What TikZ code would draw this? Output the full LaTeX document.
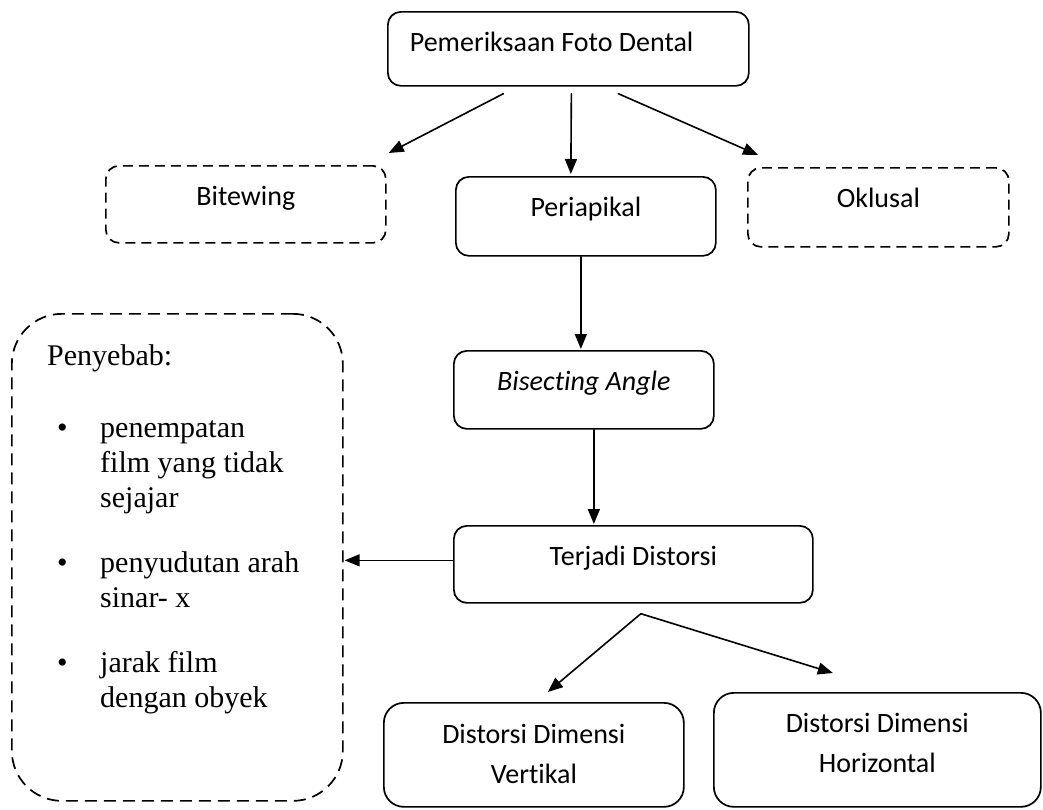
\documentclass[tikz,border=0pt]{standalone}
\usepackage{fontspec}
\setmainfont{Carlito}[Ligatures=NoCommon]
\newfontfamily\timesfont{Liberation Serif}
\usetikzlibrary{arrows.meta}

\newcommand{\poin}{\makebox[53pt][l]{\hspace{10pt}•}}

\tikzset{
  kotak/.style={draw,line width=1.7pt,rounded corners=13pt,inner sep=0pt,anchor=north west,
    text height=40pt,font=\fontsize{28}{34}\selectfont},
  putus/.style={kotak,line cap=butt,dash pattern=on 10pt off 6pt},
  panah/.style={->,line width=1.6pt}
}

\begin{document}
\begin{tikzpicture}[line cap=round,line join=round,>={Triangle[length=15pt,width=12pt]},x=1pt,y=-1pt]
\useasboundingbox (0,0) rectangle (1043,809);
% kotak atas
\node[kotak,minimum height=74pt,text depth=34pt,text width=317pt,inner xsep=22pt,align=flush left] (dental) at (387,11) {Pemeriksaan Foto Dental};
\node[putus,minimum width=280pt,minimum height=77pt,text depth=37pt] (bite) at (105,165) {Bitewing};
\node[kotak,minimum width=260pt,minimum height=79pt,text depth=39pt] (peri) at (455,176) {Periapikal};
\node[putus,minimum width=261pt,minimum height=79pt,text depth=39pt] (oklu) at (747,167) {Oklusal};
% tengah
\node[kotak,minimum width=260pt,minimum height=78pt,text depth=38pt] (bis) at (453,350) {\itshape Bisecting Angle};
\node[kotak,minimum width=359pt,minimum height=77pt,text depth=37pt] (terj) at (453,525) {Terjadi Distorsi};
% bawah
\node[kotak,rounded corners=20pt,minimum width=300pt,minimum height=104pt,text height=81pt,text depth=23pt,align=center] (vert) at (383,702) {Distorsi Dimensi\\[6pt]Vertikal};
\node[kotak,rounded corners=20pt,minimum width=327pt,minimum height=114pt,text height=80pt,text depth=34pt,align=center] (hor) at (713,692) {Distorsi Dimensi\\[6pt]Horizontal};
% penyebab
\node[putus,rounded corners=50pt,dash pattern=on 12pt off 7pt,minimum width=331pt,minimum height=487pt] (sebab) at (11,313) {};
\node[anchor=base west,inner sep=0pt,align=flush left,font=\timesfont\fontsize{30}{35}\selectfont] (sebabisi) at (47,707) {Penyebab:\\[37pt]
\poin penempatan\\
\hspace*{53pt}film yang tidak\\
\hspace*{53pt}sejajar\\[30pt]
\poin penyudutan arah\\
\hspace*{53pt}sinar- x\\[30pt]
\poin jarak film\\
\hspace*{53pt}dengan obyek};

\draw[panah] ([shift={(-65,7)}]dental.south) -- ([shift={(2,-12)}]bite.north east);
\draw[panah] ([shift={(3,7)}]dental.south) -- ([shift={(-15,-2)}]peri.north);
\draw[panah] ([shift={(50,7)}]dental.south) -- ([shift={(11,-12)}]oklu.north west);
\draw[panah] ([shift={(-5,0)}]peri.south) -- ([shift={(-3,-1)}]bis.north);
\draw[panah] ([shift={(10,0)}]bis.south) -- ([shift={(-39.5,-1)}]terj.north);
\draw[panah] ([shift={(0,-4)}]terj.west) -- ([shift={(1,3)}]sebab.east);
\draw[panah] ([shift={(7.5,10)}]terj.south) -- ([shift={(14,-10)}]vert.north);
\draw[panah] ([shift={(7.5,10)}]terj.south) -- ([shift={(-44.5,-19)}]hor.north);

\end{tikzpicture}
\end{document}
